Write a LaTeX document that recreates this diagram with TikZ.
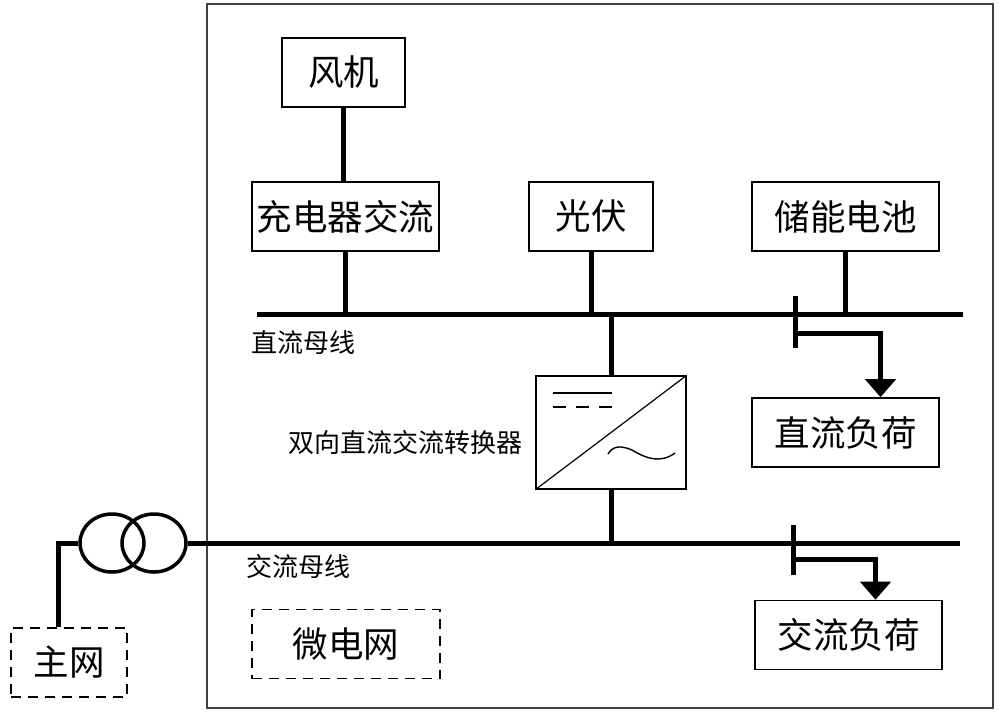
\documentclass[tikz,border=0pt]{standalone}
\usepackage{fontspec}
\newfontfamily\cjk{Noto Sans CJK SC}
\usetikzlibrary{arrows.meta,shapes.geometric}

\begin{document}
\begin{tikzpicture}[x=1pt, y=-1pt, font=\cjk,
    box/.style = {draw, line width=1.6pt, inner sep=0pt, minimum height=69pt, font=\cjk\fontsize{35.5}{40}\selectfont},
    dashbox/.style = {box, dashed, line width=1.2pt, dash pattern=on 10pt off 7pt},
    bus/.style = {line width=5pt},
    load/.style = {line width=5pt, -{Triangle[width=30pt,length=18pt]}},
    lbl/.style = {font=\cjk\fontsize{26}{30}\selectfont, inner sep=0pt},
    xfmr/.style = {draw, ellipse, line width=3.5pt, minimum width=64pt, minimum height=58pt, inner sep=0pt}]
    \useasboundingbox (0,0) rectangle (1000,713);
    \draw[line width=1.6pt, black!75] (207,4) rectangle (993,708);
    % sources
    \node[box, minimum width=123pt] (fan) at (343.5,72.5) {风机};
    \node[box, minimum width=187pt] (charger) at (345.5,216.5) {充电器交流};
    \node[box, minimum width=124pt] (pv) at (591,216.5) {光伏};
    \node[box, minimum width=187pt] (battery) at (845.5,216.5) {储能电池};
    \node[box, minimum width=187pt] (dcload) at (845.5,432.5) {直流负荷};
    \node[box, minimum width=187pt] (acload) at (848.5,635) {交流负荷};
    \node[box, minimum width=150pt, minimum height=113pt, line width=1.4pt] (conv) at (611,432.5) {};
    \node[dashbox, minimum width=116pt] (grid) at (69,662.5) {主网};
    \node[dashbox, minimum width=188pt] (micro) at (346,644) {微电网};
    \node[xfmr] (t1) at (112,543) {};
    \node[xfmr] (t2) at (154,543) {};
    % buses
    \coordinate (dcL) at (257,314);
    \coordinate (dcR) at (963,314);
    \coordinate (acR) at (960,543);
    \draw[bus] (dcL) -- (dcR);
    \draw[bus] (t2.east) -- (acR);
    \node[lbl] (dclbl) at (303,343) {直流母线};
    \node[lbl] (aclbl) at (298,567) {交流母线};
    \node[lbl] (convlbl) at (405,443) {双向直流交流转换器};
    % links
    \draw[bus] (fan.south) -- (fan.south |- charger.north);
    \draw[bus] (charger.south) -- (charger.south |- dcL);
    \draw[bus] (pv.south) -- (pv.south |- dcL);
    \draw[bus] (battery.south) -- (battery.south |- dcL);
    \draw[bus] (conv.north) -- (conv.north |- dcL);
    \draw[bus] (conv.south) -- (conv.south |- acR);
    \draw[bus] ([xshift=-11pt]grid.north) |- (t1.west);
    % breakers
    \coordinate (dcsw) at (795,296);
    \coordinate (acsw) at (793,525);
    \draw[bus] (dcsw) -- ++(0,52);
    \draw[load] ([yshift=-37pt]dcsw) -| ([xshift=35pt]dcload.north);
    \draw[bus] (acsw) -- ++(0,50);
    \draw[load] ([yshift=-34pt]acsw) -| ([xshift=27pt]acload.north);
    % converter symbol
    \draw[line width=1.2pt] (conv.south west) -- (conv.north east);
    \draw[line width=1.4pt] (553,393) -- (612,393);
    \foreach \d in {553,576,599}
        \draw[line width=1.4pt] (\d,407) -- ++(13,0);
    \draw[line width=1.4pt] (608,454) .. controls (613,446) and (620,445) .. (632,450) .. controls (645,458) and (660,464) .. (675,453);
\end{tikzpicture}
\end{document}
